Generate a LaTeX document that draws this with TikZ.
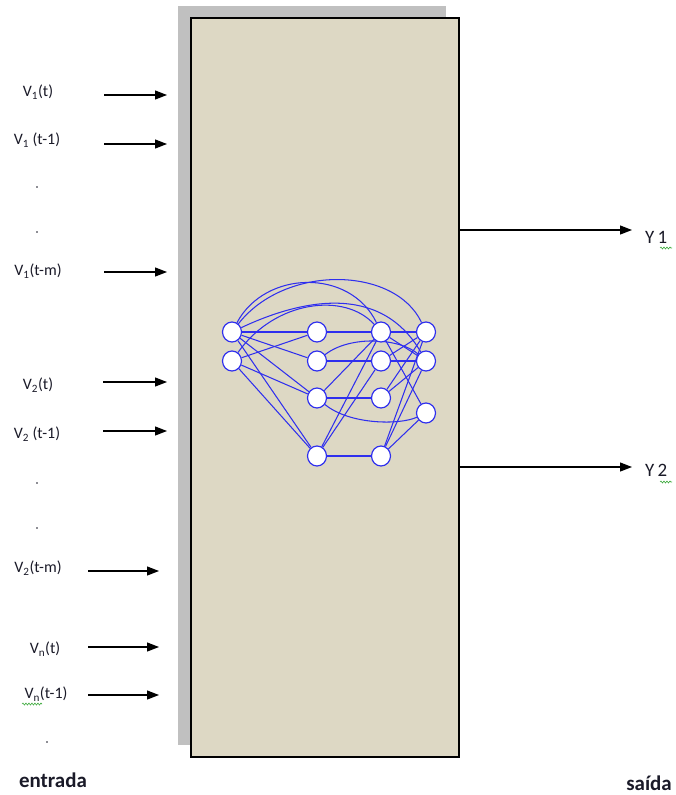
\documentclass[tikz,border=0pt]{standalone}
\usepackage{fontspec}
\setmainfont{Carlito}
\usetikzlibrary{shapes.geometric,arrows.meta,decorations.pathmorphing}
\pgfdeclarelayer{back}
\pgfdeclarelayer{wires}
\pgfsetlayers{back,wires,main}
\definecolor{boxfill}{HTML}{DDD8C4}
\definecolor{shadowgray}{HTML}{C0C0C0}
\definecolor{netblue}{HTML}{2F2FEE}
\definecolor{inkgreen}{HTML}{3DAA3D}
\definecolor{ink}{HTML}{1A1A28}
\begin{document}
\begin{tikzpicture}[x=1bp,y=-1bp,
  neuron/.style={ellipse,draw=netblue,fill=white,line width=1.2bp,
    minimum width=19bp,minimum height=20bp,inner sep=0pt},
  wire/.style={netblue,line width=1.05bp},
  inlabel/.style={font=\fontsize{16}{18}\selectfont,text=ink,inner sep=0pt},
  outlabel/.style={font=\fontsize{19}{22}\selectfont,text=ink,inner sep=0pt,anchor=west},
  caption/.style={font=\fontsize{21}{24}\selectfont\bfseries,text=ink,inner sep=0pt},
  feed/.style={line width=1.2bp,-{Triangle[length=12bp,width=9bp]}},
  vdot/.style={circle,fill=ink,inner sep=0pt,minimum size=1.8bp},
  squiggle/.style={inkgreen,line width=0.6bp,decorate,
    decoration={snake,amplitude=1bp,segment length=3bp}}]
\useasboundingbox (0,0) rectangle (676,795);

% network block with its drop shadow
\begin{pgfonlayer}{back}
  \fill[shadowgray] (178,6) rectangle (446,745);
  \draw[fill=boxfill,line width=1.2bp] (191,18) rectangle (459,757);
\end{pgfonlayer}

% neurons, one column per layer
\node[neuron] (a1) at (232,332) {};
\node[neuron] (a2) at (232,361) {};
\node[neuron] (b1) at (317,332) {};
\node[neuron] (b2) at (317,361) {};
\node[neuron] (b3) at (317,398) {};
\node[neuron] (b4) at (317,456) {};
\node[neuron] (c1) at (381,332) {};
\node[neuron] (c2) at (381,361) {};
\node[neuron] (c3) at (381,398) {};
\node[neuron] (c4) at (381,456) {};
\node[neuron] (d1) at (426,332) {};
\node[neuron] (d2) at (426,361) {};
\node[neuron] (d3) at (426,413) {};

% connections between the neurons
\begin{pgfonlayer}{wires}
  \foreach \s/\t in {a1/b1,a1/b2,a1/b3,a1/b4,a2/b1,a2/b3,a2/b4,
                     b1/c1,b2/c2,b3/c3,b4/c4,b3/c1,b4/c1,b4/c2,
                     c1/d1,c2/d2,c1/d3,c2/d1,c3/d1,c3/d2,c4/d1,c4/d2,c4/d3,c1/d2}
    \draw[wire] (\s) -- (\t);
  \draw[wire] (a1) .. controls (265,270) and (350,268) .. (c1);
  \draw[wire] (a1) .. controls (285,264) and (395,266) .. (d1);
  \draw[wire] (a2) .. controls (275,300) and (345,292) .. (c1);
  \draw[wire] (a1) .. controls (300,300) and (380,282) .. (d2);
  \draw[wire] (b2) .. controls (350,335) and (400,338) .. (d2);
  \draw[wire] (b3) .. controls (350,425) and (400,425) .. (d3);
\end{pgfonlayer}

% delayed inputs
\node[inlabel] (l1)  at (38,92)  {V\textsubscript{1}(t)};
\node[inlabel] (l2)  at (37,140) {V\textsubscript{1} (t-1)};
\node[vdot]    (p1)  at (37,187) {};
\node[vdot]    (p2)  at (37,232) {};
\node[inlabel] (l3)  at (38,271) {V\textsubscript{1}(t-m)};
\node[inlabel] (l4)  at (38,385) {V\textsubscript{2}(t)};
\node[inlabel] (l5)  at (37,434) {V\textsubscript{2} (t-1)};
\node[vdot]    (p3)  at (37,483) {};
\node[vdot]    (p4)  at (37,528) {};
\node[inlabel] (l6)  at (38,568) {V\textsubscript{2}(t-m)};
\node[inlabel] (l7)  at (45,649) {V\textsubscript{n}(t)};
\node[inlabel] (l8)  at (46,694) {V\textsubscript{n}(t-1)};
\node[vdot]    (p5)  at (47,742) {};

\foreach \n/\y/\xa/\xb in {1/95/104/167,2/144/104/167,3/272/104/167,
                           4/382/103/167,5/431/103/167,
                           6/571/88/159,7/647/88/159,8/695/88/159} {
  \coordinate (in\n s) at (\xa,\y);
  \coordinate (in\n e) at (\xb,\y);
  \draw[feed] (in\n s) -- (in\n e);
}

% outputs
\coordinate (o1s) at (459,230);
\coordinate (o1e) at (632,230);
\coordinate (o2s) at (459,467);
\coordinate (o2e) at (632,467);
\draw[feed] (o1s) -- (o1e);
\draw[feed] (o2s) -- (o2e);
\node[outlabel] (y1) at (645,237) {Y\,1};
\node[outlabel] (y2) at (645,470) {Y\,2};

% spell-check marks
\draw[squiggle] (22,704) -- (42,704);
\draw[squiggle] (660,248) -- (672,248);
\draw[squiggle] (660,482) -- (672,482);

% captions
\node[caption] (entrada) at (53,780) {entrada};
\node[caption] (saida)   at (649,783) {saída};
\end{tikzpicture}
\end{document}
